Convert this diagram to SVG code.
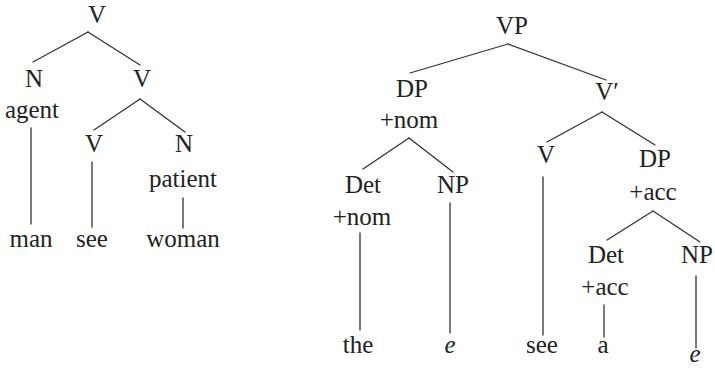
<svg xmlns="http://www.w3.org/2000/svg" width="715" height="368" viewBox="0 0 715 368">
  <style>
    text { font-family: "Liberation Serif", "Times New Roman", serif; font-size: 25px; fill: #222; text-anchor: middle; }
    .it { font-style: italic; }
    #edges line { stroke: #333; stroke-width: 1.3; stroke-linecap: round; }
  </style>
  <rect width="715" height="368" fill="#fff"/>

  <g id="edges">
    <!-- thematic tree -->
    <line x1="88" y1="32" x2="33" y2="62"/>
    <line x1="88" y1="32" x2="140" y2="65"/>
    <line x1="140" y1="99" x2="94" y2="130"/>
    <line x1="140" y1="99" x2="185" y2="132"/>
    <line x1="31" y1="128" x2="31" y2="224"/>
    <line x1="92" y1="162" x2="92" y2="227"/>
    <line x1="183" y1="198" x2="183" y2="228"/>
    <!-- phrase-structure tree -->
    <line x1="508" y1="44" x2="410" y2="73"/>
    <line x1="508" y1="44" x2="606" y2="80"/>
    <line x1="409" y1="138" x2="363" y2="169"/>
    <line x1="409" y1="138" x2="453" y2="172"/>
    <line x1="602" y1="112" x2="547" y2="142"/>
    <line x1="602" y1="112" x2="655" y2="145"/>
    <line x1="360" y1="233" x2="360" y2="330"/>
    <line x1="450" y1="203" x2="450" y2="333"/>
    <line x1="543" y1="177" x2="543" y2="335"/>
    <line x1="653" y1="211" x2="607" y2="240"/>
    <line x1="653" y1="211" x2="700" y2="242"/>
    <line x1="604" y1="305" x2="604" y2="337"/>
    <line x1="696" y1="276" x2="696" y2="348"/>
  </g>

  <!-- thematic tree nodes -->
  <g id="v-root"><text x="97" y="23">V</text></g>
  <g id="n-agent"><text x="34" y="87">N</text><text x="32" y="118">agent</text></g>
  <g id="v-mid"><text x="142" y="87">V</text></g>
  <g id="v-low"><text x="94" y="152">V</text></g>
  <g id="n-patient"><text x="184" y="152">N</text><text x="183" y="187">patient</text></g>
  <g id="w-man"><text x="31" y="247">man</text></g>
  <g id="w-see1"><text x="92" y="247">see</text></g>
  <g id="w-woman"><text x="183" y="247">woman</text></g>

  <!-- phrase-structure tree nodes -->
  <g id="vp"><text x="512" y="34">VP</text></g>
  <g id="dp-nom"><text x="412" y="97">DP</text><text x="409" y="128">+nom</text></g>
  <g id="v-bar"><text x="607" y="100">V′</text></g>
  <g id="det-nom"><text x="363" y="193">Det</text><text x="362" y="225">+nom</text></g>
  <g id="np1"><text x="453" y="193">NP</text></g>
  <g id="v-head"><text x="546" y="163">V</text></g>
  <g id="dp-acc"><text x="655" y="167">DP</text><text x="653" y="200">+acc</text></g>
  <g id="det-acc"><text x="606" y="263">Det</text><text x="605" y="295">+acc</text></g>
  <g id="np2"><text x="697" y="263">NP</text></g>
  <g id="w-the"><text x="358" y="353">the</text></g>
  <g id="w-e1"><text class="it" x="450" y="353">e</text></g>
  <g id="w-see2"><text x="542" y="353">see</text></g>
  <g id="w-a"><text x="603" y="353">a</text></g>
  <g id="w-e2"><text class="it" x="695" y="362">e</text></g>
</svg>
